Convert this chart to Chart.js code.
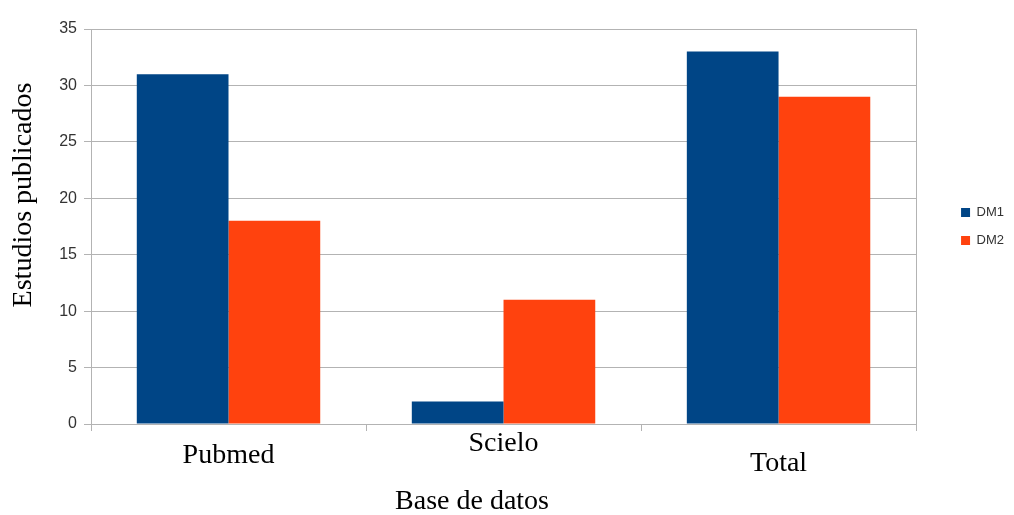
<!DOCTYPE html>
<html>
<head>
<meta charset="utf-8">
<script src="https://cdn.jsdelivr.net/npm/chart.js@4/dist/chart.umd.min.js"></script>
<style>
  html, body { margin: 0; padding: 0; background: #fff; }
  #wrap { width: 1014px; height: 515px; }
</style>
</head>
<body>
<div id="wrap"><canvas id="pubChart"></canvas></div>
<script>
// data
const categories = ['Pubmed', 'Scielo', 'Total'];
const seriesNames = ['DM1', 'DM2'];
const dm1Values = [31, 2, 33];
const dm2Values = [18, 11, 29];
const yMin = 0;
const yMax = 35;
const yStep = 5;

const gridColor = '#b3b3b3';
const serif = '"Liberation Serif", "Times New Roman", serif';
const sans = '"Liberation Sans", Arial, sans-serif';

// the x labels sit at slightly different heights in the original
const labelLineHeights = ['50px', '25px', '66px'];
// titles are not centred on the plot in the original, padded spaces move them
const pad = ' '.repeat(9);

window.addEventListener('load', () => {
    const ctx = document.getElementById('pubChart').getContext('2d');
    new Chart(ctx, {
        type: 'bar',
        data: {
            labels: categories,
            datasets: [
                { label: seriesNames[0], data: dm1Values, backgroundColor: '#004586', borderWidth: 0 },
                { label: seriesNames[1], data: dm2Values, backgroundColor: '#ff420e', borderWidth: 0 }
            ]
        },
        options: {
            responsive: true,
            maintainAspectRatio: false,
            animation: false,
            layout: { padding: { top: 29, right: 0, bottom: 0, left: 0 } },
            datasets: { bar: { categoryPercentage: 0.667, barPercentage: 1.0 } },
            plugins: {
                tooltip: { enabled: false },
                legend: {
                    position: 'right',
                    fullSize: false,
                    labels: {
                        boxWidth: 9,
                        boxHeight: 9,
                        padding: 15,
                        color: '#333',
                        font: { family: sans, size: 13 }
                    }
                }
            },
            scales: {
                x: {
                    grid: { display: true, drawOnChartArea: false, color: gridColor, tickLength: 7 },
                    border: { display: true, color: gridColor },
                    ticks: {
                        padding: 0,
                        color: '#000',
                        font: (c) => ({ family: serif, size: 28, lineHeight: labelLineHeights[c.index] || '30px' })
                    },
                    title: {
                        display: true,
                        text: 'Base de datos' + pad,
                        color: '#000',
                        font: { family: serif, size: 28, lineHeight: '26px' },
                        padding: { top: 0, bottom: 0 }
                    },
                    afterFit: (s) => { s.height = 91; }
                },
                y: {
                    min: yMin,
                    max: yMax,
                    grid: { color: gridColor, tickLength: 7 },
                    border: { display: true, color: gridColor },
                    ticks: {
                        stepSize: yStep,
                        padding: 7,
                        color: '#333',
                        font: { family: sans, size: 16 }
                    },
                    title: {
                        display: true,
                        text: pad + 'Estudios publicados',
                        color: '#000',
                        font: { family: serif, size: 28, lineHeight: '30px' },
                        padding: { top: 9, bottom: 0 }
                    },
                    afterFit: (s) => { s.width = 91; }
                },
                // empty right axis: gives the frame line and the gap before the legend
                frame: {
                    type: 'linear',
                    position: 'right',
                    min: 0,
                    max: 1,
                    grid: { display: false },
                    ticks: { display: false },
                    border: { display: true, color: gridColor },
                    afterFit: (s) => { s.width = 30; }
                }
            }
        }
    });
});
</script>
</body>
</html>
